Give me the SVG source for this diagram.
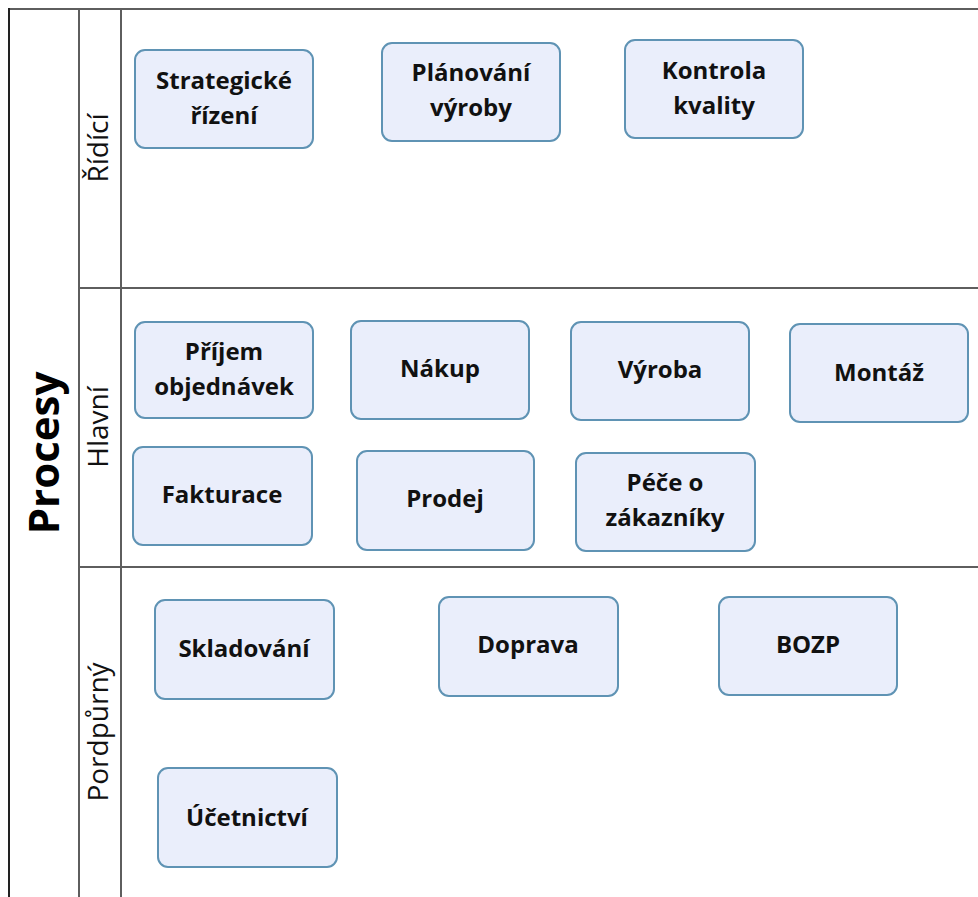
<svg xmlns="http://www.w3.org/2000/svg" width="978" height="897" viewBox="0 0 978 897">
<defs>
<style>
.lane{stroke:#5e5e5e;stroke-width:2;fill:none}
.box{fill:#eaeefb;stroke:#5f93b4;stroke-width:2}
.t{font-family:"Open Sans","Noto Sans","Liberation Sans",sans-serif;font-weight:bold;font-size:24px;fill:#111;text-anchor:middle}
.lbl{font-family:"Open Sans","Noto Sans","Liberation Sans",sans-serif;font-size:28px;fill:#111;text-anchor:middle}
.title{font-family:"Open Sans","Noto Sans","Liberation Sans",sans-serif;font-weight:bold;font-size:42px;fill:#000;text-anchor:middle}
</style>
</defs>
<rect width="978" height="897" fill="#ffffff"/>
<g id="lanes">
<line class="lane" x1="9" y1="9" x2="978" y2="9" stroke="#777"/>
<line x1="9" y1="8" x2="9" y2="897" stroke="#222" stroke-width="2"/>
<line class="lane" x1="79" y1="9" x2="79" y2="897"/>
<line class="lane" x1="121" y1="9" x2="121" y2="897"/>
<line class="lane" x1="79" y1="288" x2="978" y2="288"/>
<line class="lane" x1="79" y1="567" x2="978" y2="567"/>
<text class="title" transform="translate(59,453) rotate(-90)">Procesy</text>
<text class="lbl" transform="translate(108,148) rotate(-90)">Řídící</text>
<text class="lbl" transform="translate(108,427) rotate(-90)">Hlavní</text>
<text class="lbl" transform="translate(108,732) rotate(-90)">Pordpůrný</text>
</g>
<g id="connectors"></g>
<g id="n1"><rect class="box" x="135" y="50" width="178" height="98" rx="10"/><text class="t" x="224" y="89">Strategické</text><text class="t" x="224" y="124">řízení</text></g>
<g id="n2"><rect class="box" x="382" y="43" width="178" height="98" rx="10"/><text class="t" x="471" y="81">Plánování</text><text class="t" x="471" y="116">výroby</text></g>
<g id="n3"><rect class="box" x="625" y="40" width="178" height="98" rx="10"/><text class="t" x="714" y="79">Kontrola</text><text class="t" x="714" y="114">kvality</text></g>
<g id="n4"><rect class="box" x="135" y="322" width="178" height="96" rx="10"/><text class="t" x="224" y="360">Příjem</text><text class="t" x="224" y="395">objednávek</text></g>
<g id="n5"><rect class="box" x="351" y="321" width="178" height="98" rx="10"/><text class="t" x="440" y="377">Nákup</text></g>
<g id="n6"><rect class="box" x="571" y="322" width="178" height="98" rx="10"/><text class="t" x="660" y="378">Výroba</text></g>
<g id="n7"><rect class="box" x="790" y="324" width="178" height="98" rx="10"/><text class="t" x="879" y="381">Montáž</text></g>
<g id="n8"><rect class="box" x="133" y="447" width="179" height="98" rx="10"/><text class="t" x="222" y="503">Fakturace</text></g>
<g id="n9"><rect class="box" x="357" y="451" width="177" height="99" rx="10"/><text class="t" x="445" y="507">Prodej</text></g>
<g id="n10"><rect class="box" x="576" y="453" width="179" height="98" rx="10"/><text class="t" x="665" y="491">Péče o</text><text class="t" x="665" y="526">zákazníky</text></g>
<g id="n11"><rect class="box" x="155" y="600" width="179" height="99" rx="10"/><text class="t" x="244" y="657">Skladování</text></g>
<g id="n12"><rect class="box" x="439" y="597" width="179" height="99" rx="10"/><text class="t" x="528" y="653">Doprava</text></g>
<g id="n13"><rect class="box" x="719" y="597" width="178" height="98" rx="10"/><text class="t" x="808" y="653">BOZP</text></g>
<g id="n14"><rect class="box" x="158" y="768" width="179" height="99" rx="10"/><text class="t" x="247" y="826">Účetnictví</text></g>
</svg>
